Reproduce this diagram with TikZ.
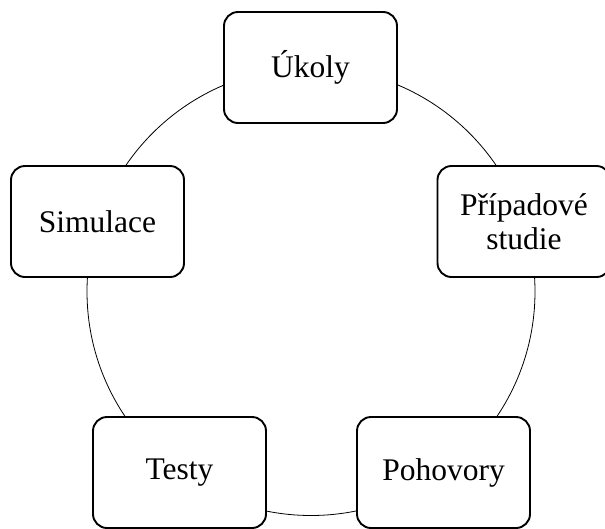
\documentclass[tikz,border=0pt]{standalone}
\usepackage{fontspec}
\setmainfont{Liberation Serif}
\begin{document}
\begin{tikzpicture}[x=1pt,y=-1pt,
  stagebox/.style={draw=black, line width=1.9pt, fill=white, rounded corners=14pt,
    minimum width=173pt, minimum height=111pt, align=center, inner sep=0pt,
    font=\fontsize{31.5}{34}\selectfont},
  ring/.style={draw=black, line width=0.8pt}]
\useasboundingbox (0,0) rectangle (605,528);
\clip (0,0) rectangle (605,528);
\coordinate (c) at (311,291.5);
\draw[ring] (c) circle[radius=224pt];
\node[stagebox] (ukoly) at (310.5,67.5) {Úkoly};
\node[stagebox] (pripad) at (524,221.5) {Případové\\studie};
\node[stagebox] (pohov) at (443.5,472.5) {Pohovory};
\node[stagebox] (testy) at (179.5,472.5) {Testy};
\node[stagebox] (simul) at (97.5,221.5) {Simulace};
\end{tikzpicture}
\end{document}
